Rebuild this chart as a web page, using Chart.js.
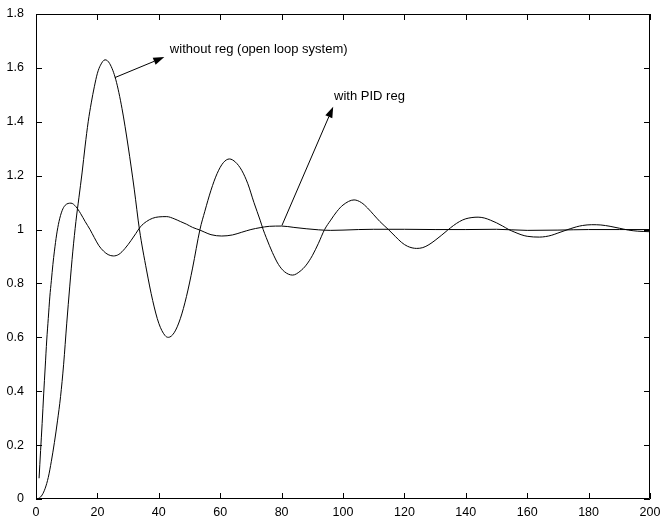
<!DOCTYPE html>
<html>
<head>
<meta charset="utf-8">
<script src="https://cdn.jsdelivr.net/npm/chart.js@4/dist/chart.umd.min.js"></script>
<style>
  html, body { margin: 0; padding: 0; background: #fff; }
  canvas { display: block; }
</style>
</head>
<body>
<canvas id="chart" width="662" height="519"></canvas>
<script>
'use strict';

// open loop response (without regulator)
var openTime = [0, 1, 2, 3, 4, 5, 6, 7, 8, 9, 10, 11, 12, 13, 14, 15, 16, 17, 18, 19, 20, 21, 22.5,
  24, 26, 28, 30, 32, 33.7, 36, 38, 40, 42, 43.1, 45, 47, 49, 51, 53.4, 55, 57, 59, 61, 63,
  65, 67, 69, 71, 73, 74, 75, 77, 79, 81, 83.6, 86, 88, 90, 92, 94, 96, 98, 100, 103.6,
  106, 108, 110, 112, 114.8, 117, 119, 121, 124, 126, 128, 130, 132, 134, 136, 138, 140, 144,
  146, 148, 150, 152, 154, 156, 158, 160, 164, 166, 168, 170, 172, 174, 176, 178, 181, 184,
  187, 190, 193, 196, 200];
var openLoop = [0, 0.003, 0.015, 0.04, 0.08, 0.14, 0.21, 0.29, 0.38, 0.5, 0.65, 0.79, 0.92, 1.03, 1.12, 1.21, 1.31, 1.4, 1.47, 1.53, 1.58, 1.61, 1.63,
  1.616, 1.556, 1.45, 1.31, 1.15, 1.0, 0.85, 0.737, 0.652, 0.607, 0.6, 0.617, 0.669, 0.751, 0.857, 1.0, 1.068, 1.146, 1.208, 1.248, 1.262,
  1.25, 1.22, 1.17, 1.1, 1.035, 1.0, 0.97, 0.915, 0.87, 0.843, 0.831, 0.845, 0.868, 0.903, 0.949, 1.0, 1.035, 1.067, 1.091, 1.11,
  1.1, 1.08, 1.055, 1.03, 1.0, 0.975, 0.953, 0.938, 0.93, 0.933, 0.944, 0.96, 0.978, 0.997, 1.015, 1.03, 1.04, 1.046,
  1.043, 1.035, 1.025, 1.013, 1.0, 0.99, 0.981, 0.975, 0.972, 0.974, 0.979, 0.987, 0.995, 1.003, 1.01, 1.015, 1.018, 1.017,
  1.012, 1.005, 0.998, 0.994, 0.992];

// closed loop response with PID regulator
var pidTime = [1, 1.5, 2, 2.5, 3, 3.5, 4, 4.5, 5, 5.5, 6, 6.7, 7.5, 8.5, 9.5, 11.4, 13, 14.5, 16, 17.6,
  19, 20.5, 22, 23.5, 25.2, 27, 29, 31, 32.5, 34, 36, 38, 40, 42.6, 45, 47, 49, 51, 53.4, 55, 57,
  60.5, 64, 67, 70, 73, 76, 80, 84, 88, 92, 96, 100, 105, 110, 120, 130, 140, 150, 160, 170, 180, 190, 200];
var pidLoop = [0.077, 0.18, 0.28, 0.39, 0.49, 0.59, 0.67, 0.75, 0.81, 0.87, 0.92, 0.98, 1.03, 1.07, 1.09, 1.098, 1.085, 1.06, 1.03, 1.0,
  0.97, 0.94, 0.92, 0.907, 0.902, 0.908, 0.93, 0.96, 0.985, 1.01, 1.03, 1.042, 1.047, 1.048, 1.04, 1.03, 1.02, 1.008, 0.998, 0.99, 0.981,
  0.976, 0.98, 0.99, 1.0, 1.007, 1.012, 1.013, 1.008, 1.003, 0.999, 0.997, 0.998, 1.0, 1.001, 1.001, 1.0, 1.0, 1.001, 0.997, 0.998, 1.0, 1.0, 1.0];

var xTicks = [0, 20, 40, 60, 80, 100, 120, 140, 160, 180, 200];
var yTicks = [0, 0.2, 0.4, 0.6, 0.8, 1, 1.2, 1.4, 1.6, 1.8];

// arrow annotations, in data units
var noteText = ['without reg (open loop system)', 'with PID reg'];
var noteTail = [[25.7, 1.564], [80.1, 1.015]];
var noteTip = [[41.8, 1.64], [96.8, 1.456]];
var noteLabel = [[43.6, 1.654], [97.1, 1.481]];

function points(ts, vs) {
  return ts.map(function (t, i) { return { x: t, y: vs[i] }; });
}

// box around the plot with inward tick marks, like matlab
var boxPlugin = {
  id: 'box',
  afterDraw: function (chart) {
    var c = chart.ctx, a = chart.chartArea;
    var xs = chart.scales.x, ys = chart.scales.y;
    var len = 6;
    c.save();
    c.strokeStyle = '#000';
    c.lineWidth = 1;
    c.beginPath();
    c.rect(a.left + 0.5, a.top + 0.5, a.right - a.left - 1, a.bottom - a.top - 1);
    xTicks.forEach(function (v) {
      var px = Math.round(xs.getPixelForValue(v)) + 0.5;
      c.moveTo(px, a.bottom); c.lineTo(px, a.bottom - len);
      c.moveTo(px, a.top); c.lineTo(px, a.top + len);
    });
    yTicks.forEach(function (v) {
      var py = Math.round(ys.getPixelForValue(v)) + 0.5;
      c.moveTo(a.left, py); c.lineTo(a.left + len, py);
      c.moveTo(a.right, py); c.lineTo(a.right - len, py);
    });
    c.stroke();
    c.restore();
  }
};

var notePlugin = {
  id: 'notes',
  afterDatasetsDraw: function (chart) {
    var c = chart.ctx;
    var xs = chart.scales.x, ys = chart.scales.y;
    c.save();
    c.strokeStyle = '#000';
    c.fillStyle = '#000';
    c.lineWidth = 1;
    c.font = '13px "Liberation Sans", Arial, sans-serif';
    c.textBaseline = 'alphabetic';
    noteText.forEach(function (txt, i) {
      var x0 = xs.getPixelForValue(noteTail[i][0]), y0 = ys.getPixelForValue(noteTail[i][1]);
      var x1 = xs.getPixelForValue(noteTip[i][0]), y1 = ys.getPixelForValue(noteTip[i][1]);
      var ang = Math.atan2(y1 - y0, x1 - x0);
      var hl = 11, hw = 3.8;
      var bx = x1 - hl * Math.cos(ang), by = y1 - hl * Math.sin(ang);
      c.beginPath();
      c.moveTo(x0, y0); c.lineTo(bx, by);
      c.stroke();
      c.beginPath();
      c.moveTo(x1, y1);
      c.lineTo(bx + hw * Math.sin(ang), by - hw * Math.cos(ang));
      c.lineTo(bx - hw * Math.sin(ang), by + hw * Math.cos(ang));
      c.closePath();
      c.fill();
      c.fillText(txt, xs.getPixelForValue(noteLabel[i][0]), ys.getPixelForValue(noteLabel[i][1]));
    });
    c.restore();
  }
};

var tickFont = { family: '"Liberation Sans", Arial, sans-serif', size: 12.5 };

var ctx = document.getElementById('chart').getContext('2d');
var chart = new Chart(ctx, {
  type: 'line',
  data: {
    datasets: [{
      label: 'without reg',
      data: points(openTime, openLoop),
      borderColor: '#000',
      borderWidth: 1,
      pointRadius: 0,
      cubicInterpolationMode: 'monotone',
      fill: false
    }, {
      label: 'with PID reg',
      data: points(pidTime, pidLoop),
      borderColor: '#000',
      borderWidth: 1,
      pointRadius: 0,
      cubicInterpolationMode: 'monotone',
      fill: false
    }]
  },
  options: {
    responsive: false,
    animation: false,
    layout: { padding: { top: 14, right: 12, left: 0, bottom: 0 } },
    plugins: { legend: { display: false }, tooltip: { enabled: false } },
    scales: {
      x: {
        type: 'linear',
        min: 0,
        max: 200,
        afterBuildTicks: function (s) { s.ticks = xTicks.map(function (v) { return { value: v }; }); },
        afterFit: function (s) { s.height = 20; },
        ticks: { color: '#000', font: tickFont, padding: -2, maxRotation: 0, autoSkip: false },
        grid: { display: false },
        border: { display: false }
      },
      y: {
        type: 'linear',
        min: 0,
        max: 1.8,
        afterBuildTicks: function (s) { s.ticks = yTicks.map(function (v) { return { value: v }; }); },
        afterFit: function (s) { s.width = 36; },
        ticks: {
          color: '#000', font: tickFont, padding: 4, autoSkip: false,
          callback: function (v) { return String(Math.round(v * 10) / 10); }
        },
        grid: { display: false },
        border: { display: false }
      }
    }
  },
  plugins: [boxPlugin, notePlugin]
});
</script>
</body>
</html>
